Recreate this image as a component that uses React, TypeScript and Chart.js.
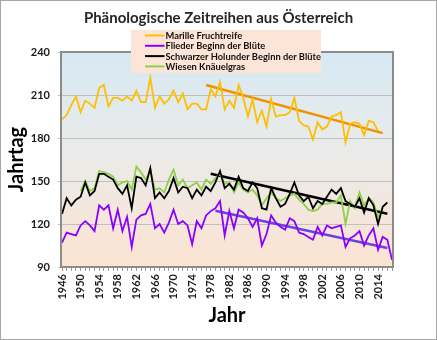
import React, { useEffect, useRef } from 'react';
import { Chart, registerables } from 'chart.js';

Chart.register(...registerables);

const years: number[] = [
  1946, 1947, 1948, 1949, 1950, 1951, 1952, 1953, 1954, 1955, 1956, 1957,
  1958, 1959, 1960, 1961, 1962, 1963, 1964, 1965, 1966, 1967, 1968, 1969,
  1970, 1971, 1972, 1973, 1974, 1975, 1976, 1977, 1978, 1979, 1980, 1981,
  1982, 1983, 1984, 1985, 1986, 1987, 1988, 1989, 1990, 1991, 1992, 1993,
  1994, 1995, 1996, 1997, 1998, 1999, 2000, 2001, 2002, 2003, 2004, 2005,
  2006, 2007, 2008, 2009, 2010, 2011, 2012, 2013, 2014, 2015, 2016, 2017,
];

const tickYears: number[] = [
  1946, 1950, 1954, 1958, 1962, 1966, 1970, 1974, 1978, 1982, 1986, 1990,
  1994, 1998, 2002, 2006, 2010, 2014,
];

const yTicks: number[] = [90, 120, 150, 180, 210, 240];

// Marille Fruchtreife
const marille: (number | null)[] = [
  193, 196, 203, 209, 198, 206, 204, 201, 215, 217, 202, 208,
  208, 206, 209, 206, 213, 205, 205, 222, 201, 209, 204, 207,
  213, 205, 211, 200, 204, 204, 200, 200, 214, 209, 219, 200,
  206, 201, 217, 208, 195, 207, 191, 199, 188, 207, 195, 196,
  196, 198, 208, 192, 189, 188, 179, 191, 186, 188, 195, 196,
  198, 177, 190, 191, 190, 182, 192, 191, 185, null, null, null,
];

// Flieder Beginn der Blüte
const flieder: (number | null)[] = [
  107, 114, 113, 112, 119, 122, 119, 115, 133, 130, 133, 117,
  130, 115, 125, 104, 123, 126, 127, 134, 117, 120, 114, 121,
  130, 120, 122, 119, 106, 122, 117, 126, 129, 131, 136, 112,
  129, 117, 130, 128, 124, 118, 124, 105, 113, 126, 121, 118,
  116, 124, 122, 114, 113, 111, 109, 118, 112, 119, 117, 118,
  119, 104, 110, 112, 115, 105, 112, 117, 102, 111, 109, 95,
];

// Schwarzer Holunder Beginn der Blüte
const holunder: (number | null)[] = [
  127, 138, 133, 137, 139, 149, 140, 143, 155, 155, 153, 151,
  145, 141, 147, 131, 153, 152, 147, 159, 138, 142, 138, 143,
  152, 142, 146, 145, 138, 144, 140, 146, 143, 149, 157, 145,
  148, 144, 153, 145, 143, 149, 145, 131, 130, 145, 138, 132,
  134, 141, 149, 140, 136, 139, 131, 136, 134, 139, 144, 141,
  145, 136, 134, 132, 138, 128, 138, 133, 120, 132, 135, null,
];

// Wiesen Knäuelgras
const knaeuelgras: (number | null)[] = [
  null, null, null, null, 143, 150, 143, 145, 157, 156, 155, 153,
  147, 149, 150, 144, 160, 156, 151, 157, 144, 145, 142, 151,
  158, 147, 151, 145, 147, 149, 144, 151, 148, 152, 155, 148,
  149, 142, 149, 144, 142, 144, 140, 133, 138, 142, 138, 136,
  138, 140, 141, 137, 134, 130, 129, 130, 134, 134, 135, 135,
  140, 120, 136, 131, 142, 133, 138, 135, 125, 130, null, null,
];

// Trend lines (start / end year and value)
const marilleTrendYears: number[] = [1977, 2015];
const marilleTrendValues: number[] = [217, 183.4];
const fliederTrendYears: number[] = [1979, 2016];
const fliederTrendValues: number[] = [129.3, 103.3];
const holunderTrendYears: number[] = [1978, 2016];
const holunderTrendValues: number[] = [155, 127.2];

const seriesLabels: string[] = [
  'Marille Fruchtreife',
  'Flieder Beginn der Blüte',
  'Schwarzer Holunder Beginn der Blüte',
  'Wiesen Knäuelgras',
];

const COLORS = {
  marille: '#FFBE00',
  flieder: '#8A00FF',
  holunder: '#000000',
  gras: '#8FD04A',
  marilleTrend: '#F29100',
  fliederTrend: '#6A44E0',
  holunderTrend: '#000000',
};

function trendData(ty: number[], tv: number[]): (number | null)[] {
  return years.map((y) => {
    const k = ty.indexOf(y);
    return k >= 0 ? tv[k] : null;
  });
}

const FONT = 'Lato';

const decorPlugin = {
  id: 'decor',
  beforeDraw(chart: any) {
    const { ctx, chartArea: a, width, height } = chart;
    ctx.save();
    ctx.fillStyle = '#ffffff';
    ctx.fillRect(0, 0, width, height);
    const g = ctx.createLinearGradient(0, a.top, 0, a.bottom);
    g.addColorStop(0, '#d6e9f3');
    g.addColorStop(0.45, '#eaebea');
    g.addColorStop(1, '#fce3d2');
    ctx.fillStyle = g;
    ctx.fillRect(a.left - 1, a.top, a.right - a.left + 2, a.bottom - a.top);
    ctx.restore();
  },
  afterDraw(chart: any) {
    const { ctx, chartArea: a, width, height } = chart;
    ctx.save();
    // plot border
    ctx.strokeStyle = '#8c8c8c';
    ctx.lineWidth = 2;
    ctx.strokeRect(a.left - 1, a.top, a.right - a.left + 2, a.bottom - a.top);
    // outer border
    ctx.strokeStyle = '#a6a6a6';
    ctx.lineWidth = 1;
    ctx.strokeRect(0.5, 0.5, width - 1, height - 1);
    // legend
    ctx.fillStyle = '#FCE4D6';
    ctx.fillRect(131, 30, 190, 43);
    const cols = [COLORS.marille, COLORS.flieder, COLORS.holunder, COLORS.gras];
    ctx.font = `bold 9.3px ${FONT}`;
    ctx.textBaseline = 'middle';
    ctx.textAlign = 'left';
    for (let k = 0; k < 4; k++) {
      const y = 35.5 + k * 10.3;
      ctx.strokeStyle = cols[k];
      ctx.lineWidth = 2;
      ctx.beginPath();
      ctx.moveTo(145, y);
      ctx.lineTo(164.5, y);
      ctx.stroke();
      ctx.fillStyle = '#111111';
      ctx.fillText(chart.data.datasets[k].label, 165.5, y + 0.5);
    }
    ctx.restore();
  },
};

export default function App() {
  const ref = useRef<HTMLCanvasElement | null>(null);

  useEffect(() => {
    if (!ref.current) return;
    const line = (label: string, data: (number | null)[], color: string, width: number, spanGaps = false) => ({
      label,
      data,
      borderColor: color,
      backgroundColor: color,
      borderWidth: width,
      pointRadius: 0,
      pointHoverRadius: 0,
      tension: 0,
      fill: false,
      spanGaps,
      yAxisID: 'y',
    });
    const chart = new Chart(ref.current, {
      type: 'line',
      data: {
        labels: years.map(String),
        datasets: [
          line(seriesLabels[0], marille, COLORS.marille, 1.8),
          line(seriesLabels[1], flieder, COLORS.flieder, 1.8),
          line(seriesLabels[2], holunder, COLORS.holunder, 1.8),
          line(seriesLabels[3], knaeuelgras, COLORS.gras, 1.8),
          line('Trend Marille', trendData(marilleTrendYears, marilleTrendValues), COLORS.marilleTrend, 2.5, true),
          line('Trend Flieder', trendData(fliederTrendYears, fliederTrendValues), COLORS.fliederTrend, 2.5, true),
          line('Trend Holunder', trendData(holunderTrendYears, holunderTrendValues), COLORS.holunderTrend, 2.5, true),
        ],
      },
      options: {
        responsive: false,
        animation: false,
        devicePixelRatio: 1,
        layout: { padding: { left: 1, right: 1, top: 0, bottom: 12 } },
        plugins: {
          legend: { display: false },
          tooltip: { enabled: false },
          title: {
            display: true,
            text: 'Phänologische Zeitreihen aus Österreich',
            color: '#262626',
            font: { family: FONT, size: 15, weight: 'bold' },
            padding: { top: 9, bottom: 25 },
          },
        },
        scales: {
          x: {
            type: 'category',
            offset: false,
            border: { display: false },
            grid: { display: true, drawOnChartArea: false, tickLength: 4, color: '#9a9a9a' },
            ticks: {
              autoSkip: false,
              maxRotation: 90,
              minRotation: 90,
              padding: 3,
              color: '#1a1a1a',
              font: { family: FONT, size: 11, weight: 'bold' },
              callback: (_v: any, i: number) => (tickYears.includes(years[i]) ? String(years[i]) : ''),
            },
            title: {
              display: true,
              text: 'Jahr',
              color: '#000000',
              font: { family: FONT, size: 20, weight: 'bold' },
              padding: { top: 0, bottom: 0 },
            },
            afterFit: (s: any) => {
              s.height = 61;
            },
          },
          y: {
            min: yTicks[0],
            max: yTicks[yTicks.length - 1],
            border: { display: false },
            grid: { color: '#c0c0c0', tickLength: 4, lineWidth: 1 },
            afterBuildTicks: (s: any) => {
              s.ticks = yTicks.map((v) => ({ value: v }));
            },
            ticks: {
              padding: 8,
              color: '#1a1a1a',
              font: { family: FONT, size: 11, weight: 'bold' },
            },
            title: {
              display: true,
              text: 'Jahrtag',
              color: '#000000',
              font: { family: FONT, size: 20, weight: 'bold' },
              padding: { top: 4, bottom: 0 },
            },
            afterFit: (s: any) => {
              s.width = 61;
            },
          },
          yRight: {
            type: 'linear',
            position: 'right',
            display: true,
            border: { display: false },
            grid: { display: false, drawTicks: false },
            ticks: { display: false },
            afterFit: (s: any) => {
              s.width = 44;
            },
          },
        },
      } as any,
      plugins: [decorPlugin],
    });
    return () => chart.destroy();
  }, []);

  return (
    <div style={{ position: 'absolute', left: 0, top: 0, width: 437, height: 340, background: '#fff' }}>
      <canvas ref={ref} width={437} height={340} style={{ display: 'block' }} />
    </div>
  );
}
